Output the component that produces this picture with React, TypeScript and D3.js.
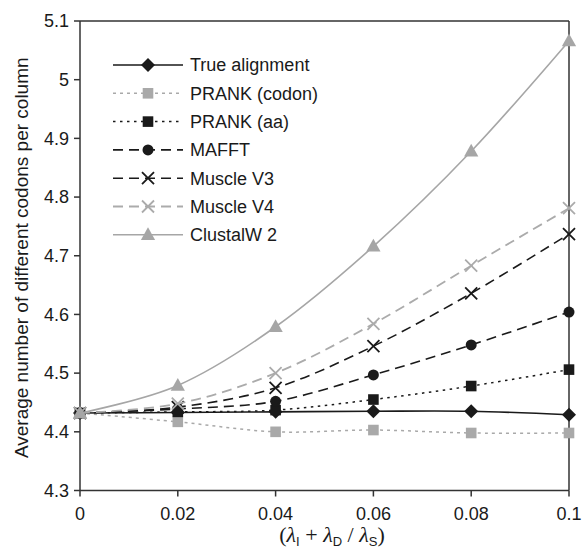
import React from 'react';
import * as d3 from 'd3';

// x positions (lambda ratio)
const xValues = [0, 0.02, 0.04, 0.06, 0.08, 0.1];
const xTicks = [0, 0.02, 0.04, 0.06, 0.08, 0.1];
const yTicks = [4.3, 4.4, 4.5, 4.6, 4.7, 4.8, 4.9, 5, 5.1];

const seriesNames = ['True alignment', 'PRANK (codon)', 'PRANK (aa)', 'MAFFT', 'Muscle V3', 'Muscle V4', 'ClustalW 2'];
const trueAlignment = [4.432, 4.433, 4.434, 4.435, 4.435, 4.429];
const prankCodon = [4.432, 4.417, 4.4, 4.403, 4.398, 4.398];
const prankAa = [4.432, 4.434, 4.437, 4.455, 4.478, 4.506];
const mafft = [4.432, 4.439, 4.452, 4.497, 4.548, 4.604];
const muscleV3 = [4.432, 4.442, 4.475, 4.546, 4.636, 4.737];
const muscleV4 = [4.432, 4.448, 4.5, 4.584, 4.683, 4.781];
const clustalW = [4.432, 4.479, 4.579, 4.716, 4.878, 5.066];

const seriesValues = [trueAlignment, prankCodon, prankAa, mafft, muscleV3, muscleV4, clustalW];

type Style = { color: string; dash: string; marker: string; width: number };
const styles: Style[] = [
  { color: '#1a1a1a', dash: '', marker: 'diamond', width: 1.6 },
  { color: '#a9a9a9', dash: '3,4', marker: 'square', width: 1.5 },
  { color: '#1a1a1a', dash: '2.5,4.5', marker: 'square', width: 1.5 },
  { color: '#1a1a1a', dash: '10,6', marker: 'circle', width: 1.6 },
  { color: '#1a1a1a', dash: '10,6', marker: 'x', width: 1.6 },
  { color: '#ababab', dash: '10,6', marker: 'x', width: 1.8 },
  { color: '#a6a6a6', dash: '', marker: 'triangle', width: 1.6 },
];

const W = 583;
const H = 552;
const left = 80;
const right = 569;
const top = 21;
const bottom = 490.5;

const font = 'Liberation Sans, Arial, sans-serif';

function Marker({ kind, cx, cy, color }: { kind: string; cx: number; cy: number; color: string }) {
  if (kind === 'diamond') {
    const s = 7;
    return <path d={`M${cx},${cy - s}L${cx + s},${cy}L${cx},${cy + s}L${cx - s},${cy}Z`} fill={color} />;
  }
  if (kind === 'square') {
    const s = 5.3;
    return <rect x={cx - s} y={cy - s} width={2 * s} height={2 * s} fill={color} />;
  }
  if (kind === 'circle') {
    return <circle cx={cx} cy={cy} r={5.5} fill={color} />;
  }
  if (kind === 'x') {
    const s = 6;
    return (
      <path
        d={`M${cx - s},${cy - s}L${cx + s},${cy + s}M${cx - s},${cy + s}L${cx + s},${cy - s}`}
        stroke={color}
        strokeWidth={1.8}
        fill="none"
      />
    );
  }
  const s = 7.5;
  return <path d={`M${cx},${cy - s}L${cx + s * 0.95},${cy + s * 0.7}L${cx - s * 0.95},${cy + s * 0.7}Z`} fill={color} />;
}

export default function App() {
  const x = d3.scaleLinear().domain([0, 0.1]).range([left, right]);
  const y = d3.scaleLinear().domain([4.3, 5.1]).range([bottom, top]);

  const lineGen = d3
    .line<number>()
    .x((_, i) => x(xValues[i]))
    .y((d) => y(d))
    .curve(d3.curveCatmullRom.alpha(0));

  const fmt = (v: number) => String(+v.toFixed(2));

  const legendX0 = 113;
  const legendX1 = 183;
  const legendY0 = 65;
  const legendStep = 28.3;

  return (
    <svg width={W} height={H} style={{ position: 'absolute', left: 0, top: 0, background: '#fff' }}>
      {/* frame */}
      <line x1={left} x2={right} y1={top} y2={top} stroke="#333" strokeWidth={1.5} />
      <line x1={right} x2={right} y1={top} y2={bottom} stroke="#333" strokeWidth={1.5} />
      <line x1={left} x2={left} y1={top} y2={bottom} stroke="#333" strokeWidth={1.5} />
      <line x1={left} x2={right} y1={bottom} y2={bottom} stroke="#333" strokeWidth={1.5} />

      {/* y axis */}
      {yTicks.map((t) => (
        <g key={t}>
          <line x1={left - 6} x2={left} y1={y(t)} y2={y(t)} stroke="#333" strokeWidth={1.5} />
          <text x={left - 11} y={y(t)} dy="0.35em" textAnchor="end" fontFamily={font} fontSize={18} fill="#1a1a1a">
            {fmt(t)}
          </text>
        </g>
      ))}
      {/* x axis */}
      {xTicks.map((t) => (
        <g key={t}>
          <line x1={x(t)} x2={x(t)} y1={bottom} y2={bottom + 6} stroke="#333" strokeWidth={1.5} />
          <text x={x(t)} y={bottom + 29} textAnchor="middle" fontFamily={font} fontSize={18} fill="#1a1a1a">
            {fmt(t)}
          </text>
        </g>
      ))}

      <text
        transform={`translate(28,${(top + bottom) / 2 + 2}) rotate(-90)`}
        textAnchor="middle"
        fontFamily={font}
        fontSize={19}
        fill="#1a1a1a"
      >
        Average number of different codons per column
      </text>

      <text x={332} y={542} textAnchor="middle" fontSize={22} fill="#1a1a1a" fontFamily="Liberation Serif, Times New Roman, serif">
        (<tspan fontStyle="italic">λ</tspan>
        <tspan fontFamily={font} fontSize={13} dy={4}>I</tspan>
        <tspan dy={-4}> + </tspan>
        <tspan fontStyle="italic">λ</tspan>
        <tspan fontFamily={font} fontSize={13} dy={4}>D</tspan>
        <tspan dy={-4}>  / </tspan>
        <tspan fontStyle="italic">λ</tspan>
        <tspan fontFamily={font} fontSize={13} dy={4}>S</tspan>
        <tspan dy={-4}>)</tspan>
      </text>

      {/* series */}
      {seriesValues.map((vals, si) => {
        const st = styles[si];
        return (
          <g key={seriesNames[si]}>
            <path
              d={lineGen(vals) || ''}
              fill="none"
              stroke={st.color}
              strokeWidth={st.width}
              strokeDasharray={st.dash || undefined}
            />
            {vals.map((v, i) => (
              <Marker key={i} kind={st.marker} cx={x(xValues[i])} cy={y(v)} color={st.color} />
            ))}
          </g>
        );
      })}

      {/* legend */}
      {seriesNames.map((name, si) => {
        const st = styles[si];
        const ly = legendY0 + si * legendStep;
        return (
          <g key={name}>
            <line
              x1={legendX0}
              x2={legendX1}
              y1={ly}
              y2={ly}
              stroke={st.color}
              strokeWidth={st.width}
              strokeDasharray={st.dash || undefined}
            />
            <Marker kind={st.marker} cx={(legendX0 + legendX1) / 2} cy={ly} color={st.color} />
            <text x={190} y={ly} dy="0.35em" fontFamily={font} fontSize={18} fill="#1a1a1a">
              {name}
            </text>
          </g>
        );
      })}
    </svg>
  );
}
